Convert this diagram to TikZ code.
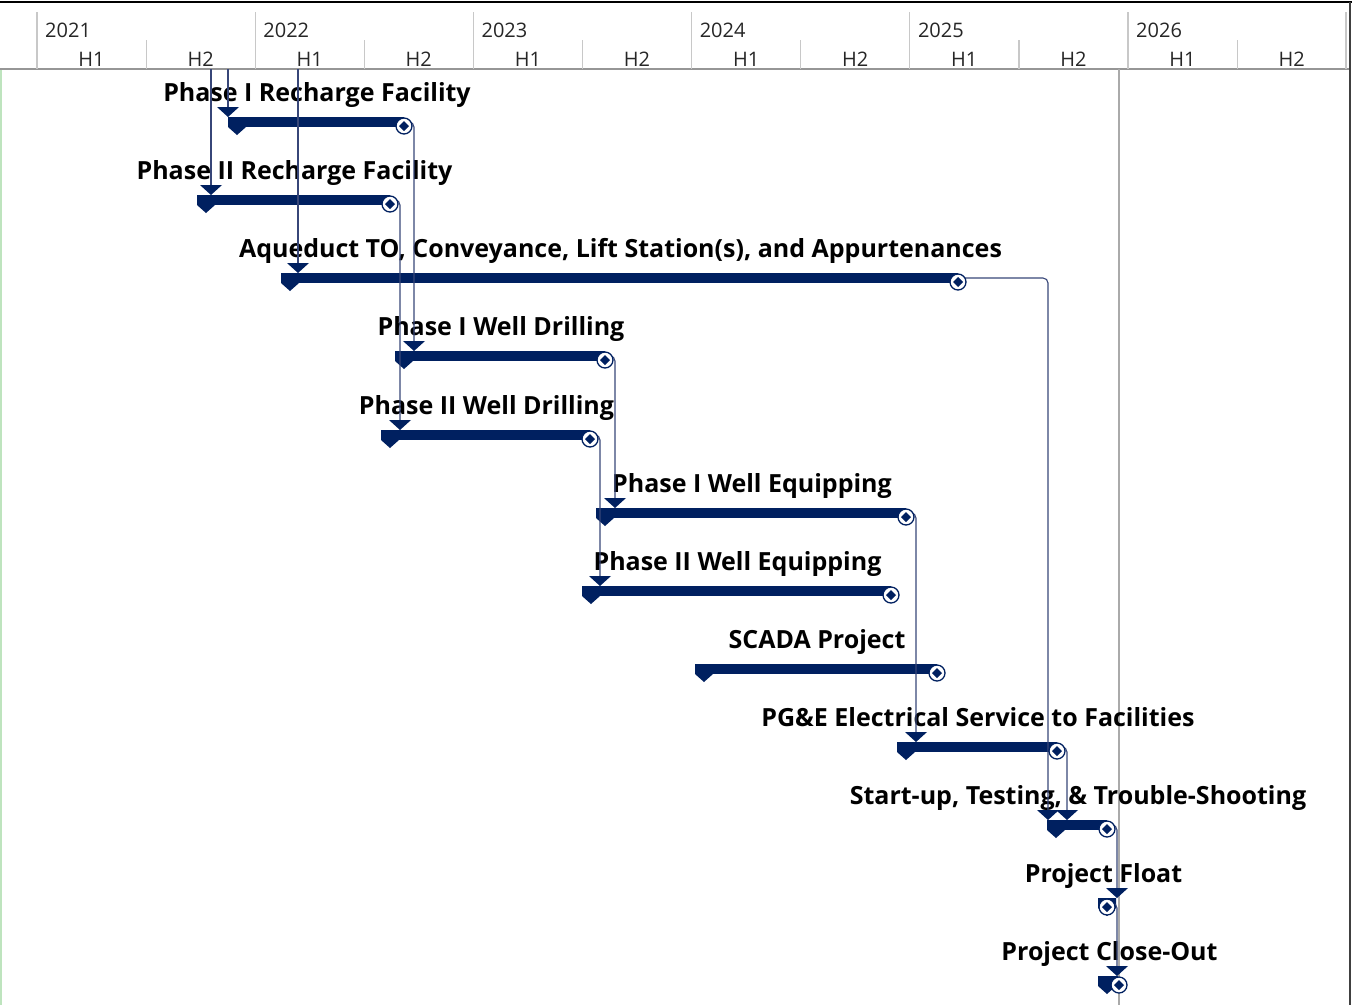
\documentclass[tikz,border=0pt]{standalone}
\usepackage{fontspec}
\setmainfont{Open Sans}
\definecolor{navy}{RGB}{0,32,96}
\definecolor{connc}{RGB}{55,70,120}
\definecolor{gridc}{RGB}{200,200,200}
\definecolor{hdrline}{RGB}{150,150,150}
\definecolor{statusc}{RGB}{170,170,170}
\definecolor{leftg}{RGB}{190,228,190}
\pgfdeclarelayer{bg}\pgfdeclarelayer{fg}\pgfsetlayers{bg,main,fg}
\tikzset{
  barline/.style={draw=navy,line width=9.5},
  endc/.style={circle,draw=navy,fill=white,line width=1.3,minimum size=16,inner sep=0pt},
  conn/.style={draw=connc,line width=1.1,rounded corners=5},
  tasklabel/.style={anchor=base,inner sep=0pt,font=\bfseries\fontsize{25}{30}\selectfont},
  yearlbl/.style={anchor=base west,inner sep=0pt,text=black!85,font=\fontsize{20}{24}\selectfont},
  halflbl/.style={anchor=base,inner sep=0pt,text=black!85,font=\fontsize{20}{24}\selectfont},
}
% #1 name, #2 label, #3 start x, #4 end x, #5 bar y
\newcommand\gtask[5]{%
  \begin{pgfonlayer}{bg}
    \draw[barline] (#3,#5) -- (#4,#5);
    \fill[navy] (#3-9,#5-5) -- (#3+9,#5-5) -- (#3+9,#5+5) -- (#3,#5+13) -- (#3-9,#5+5) -- cycle;
  \end{pgfonlayer}
  \node[tasklabel] (#1-lbl) at ({(#3+#4)/2-3.5},#5-21) {#2};
  \coordinate (#1-out) at (#4,#5);
  \begin{pgfonlayer}{fg}
    \node[endc] (#1-end) at (#4,#5+4) {};
    \fill[navy] (#4-5,#5+4) -- (#4,#5-1) -- (#4+5,#5+4) -- (#4,#5+9) -- cycle;
  \end{pgfonlayer}
}
% #1 coordinate name, #2 x, #3 bar y
\newcommand\gin[3]{%
  \coordinate (#1) at (#2,#3-7);
  \begin{pgfonlayer}{fg}
    \fill[navy] (#2-11,#3-15) -- (#2+11,#3-15) -- (#2,#3-5) -- cycle;
  \end{pgfonlayer}
}
\begin{document}
\begin{tikzpicture}[x=1pt,y=-1pt]
\useasboundingbox (0,0) rectangle (1352,1005);
% header
\draw[black,line width=1.5] (0,2) -- (1352,2);
\draw[hdrline,line width=1.3] (0,69) -- (1350,69);
\foreach \i/\yr in {0/2021,1/2022,2/2023,3/2024,4/2025,5/2026}{
  \pgfmathsetmacro\xs{37+218.2*\i}
  \draw[gridc,line width=1.2] (\xs,12) -- (\xs,69);
  \draw[gridc,line width=1.2] (\xs+109.1,40) -- (\xs+109.1,69);
  \node[yearlbl] (yr\yr) at (\xs+8,37) {\yr};
  \node[halflbl] (h1\yr) at (\xs+54.5,66) {H1};
  \node[halflbl] (h2\yr) at (\xs+163.6,66) {H2};
}
\draw[gridc,line width=1.2] (1346,12) -- (1346,69);
\draw[black!75,line width=1.3] (1350,2) -- (1350,1005);
\draw[leftg,line width=1.5] (0.75,70) -- (0.75,1005);
% status line
\draw[statusc,line width=1.2] (1119,69) -- (1119,1005);
% tasks
\gtask{p1r}{Phase I Recharge Facility}{237}{404}{122}
\gtask{p2r}{Phase II Recharge Facility}{206}{390}{200}
\gtask{aq}{Aqueduct TO, Conveyance, Lift Station(s), and Appurtenances}{290}{958}{278}
\gtask{p1wd}{Phase I Well Drilling}{404}{605}{356}
\gtask{p2wd}{Phase II Well Drilling}{390}{590}{435}
\gtask{p1we}{Phase I Well Equipping}{605}{906}{513}
\gtask{p2we}{Phase II Well Equipping}{591}{891}{591}
\gtask{scada}{SCADA Project}{704}{937}{669}
\gtask{pge}{PG\&E Electrical Service to Facilities}{906}{1057}{747}
\gtask{su}{Start-up, Testing, \& Trouble-Shooting}{1056}{1107}{825}
\gtask{pf}{Project Float}{1107}{1107}{903}
\gtask{co}{Project Close-Out}{1107}{1119}{981}
% incoming arrows
\gin{p1r-in}{228}{122}
\gin{p2r-in}{211}{200}
\gin{aq-in}{298}{278}
\gin{p1wd-in}{414}{356}
\gin{p2wd-in}{400}{435}
\gin{p1we-in}{615}{513}
\gin{p2we-in}{600}{591}
\gin{pge-in}{916}{747}
\gin{su-in1}{1048}{825}
\gin{su-in2}{1067}{825}
\gin{pf-in}{1117}{903}
\gin{co-in}{1117}{981}
% free ends at header
\coordinate (top1) at (228,69);
\coordinate (top2) at (211,69);
\coordinate (top3) at (298,69);
% connectors
\draw[conn] (top1) -- (p1r-in);
\draw[conn] (top2) -- (p2r-in);
\draw[conn] (top3) -- (aq-in);
\draw[conn] (p1r-out) -| (p1wd-in);
\draw[conn] (p2r-out) -| (p2wd-in);
\draw[conn] (aq-out) -| (su-in1);
\draw[conn] (p1wd-out) -| (p1we-in);
\draw[conn] (p2wd-out) -| (p2we-in);
\draw[conn] (p1we-out) -| (pge-in);
\draw[conn] (pge-out) -| (su-in2);
\draw[conn] (su-out) -| (pf-in);
\draw[conn] (pf-out) -| (co-in);
\end{tikzpicture}
\end{document}
